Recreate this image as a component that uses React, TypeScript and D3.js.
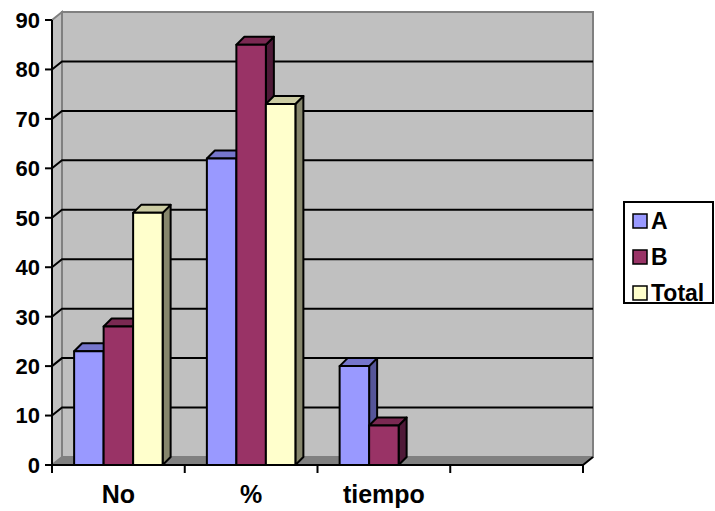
import React from 'react';
import * as d3 from 'd3';

const categories = ['No', '%', 'tiempo', ''];
const seriesNames = ['A', 'B', 'Total'];
const valuesA = [23, 62, 20, null];
const valuesB = [28, 85, 8, null];
const valuesTotal = [51, 73, null, null];
const yTicks = [0, 10, 20, 30, 40, 50, 60, 70, 80, 90];

const colors: Record<string, { front: string; top: string; side: string }> = {
    A: { front: '#9999FF', top: '#7676CC', side: '#555599' },
    B: { front: '#993366', top: '#7A2952', side: '#4F1A38' },
    Total: { front: '#FFFFCC', top: '#CCCCA3', side: '#86866C' },
};

const W = 715;
const H = 511;
const left = 52;
const right = 583;
const zeroY = 465;
const topY = 20;
// depth offsets for the walls and for the bars
const wdx = 10, wdy = -8;
const bdx = 8, bdy = -8;
const font = "'Liberation Sans', Arial, sans-serif";

const App: React.FC = () => {
    const y = d3.scaleLinear().domain([0, 90]).range([zeroY, topY]);
    const x = d3.scaleBand<string>().domain(categories.map((c, i) => String(i))).range([left, right]).padding(0);
    const band = x.bandwidth();
    const barW = band / 4.5; // gap width 150%
    const inner = d3.scaleBand<string>().domain(seriesNames).range([barW * 0.75, band - barW * 0.75]).padding(0);

    const data: Record<string, (number | null)[]> = { A: valuesA, B: valuesB, Total: valuesTotal };

    const bars: JSX.Element[] = [];
    categories.forEach((c, ci) => {
        seriesNames.forEach(s => {
            const v = data[s][ci];
            if (v == null) return;
            const x0 = (x(String(ci)) as number) + (inner(s) as number);
            const x1 = x0 + barW;
            const yt = y(v);
            const col = colors[s];
            const front = `M${x0},${zeroY}L${x0},${yt}L${x1},${yt}L${x1},${zeroY}Z`;
            const top = `M${x0},${yt}L${x0 + bdx},${yt + bdy}L${x1 + bdx},${yt + bdy}L${x1},${yt}Z`;
            const side = `M${x1},${zeroY}L${x1},${yt}L${x1 + bdx},${yt + bdy}L${x1 + bdx},${zeroY + bdy}Z`;
            bars.push(
                <g key={`${s}-${ci}`} stroke="#000" strokeWidth={2} strokeLinejoin="round">
                    <path d={side} fill={col.side} />
                    <path d={top} fill={col.top} />
                    <path d={front} fill={col.front} />
                </g>
            );
        });
    });

    const catTicks = [...categories.map((c, i) => x(String(i)) as number), right];

    return (
        <svg width={W} height={H} style={{ position: 'absolute', left: 0, top: 0, background: '#fff' }}>
            {/* left side wall */}
            <path d={`M${left},${topY}L${left + wdx},${topY + wdy}L${left + wdx},${zeroY + wdy}L${left},${zeroY}Z`}
                fill="#C0C0C0" stroke="#808080" strokeWidth={2} />
            {/* back wall */}
            <rect x={left + wdx} y={topY + wdy} width={right - left} height={zeroY - topY}
                fill="#C0C0C0" stroke="#808080" strokeWidth={2} />
            {/* floor */}
            <path d={`M${left},${zeroY}L${left + wdx},${zeroY + wdy}L${right + wdx},${zeroY + wdy}L${right},${zeroY}Z`}
                fill="#808080" />
            {/* gridlines */}
            {yTicks.filter(t => t > 0 && t < 90).map(t => (
                <path key={t} d={`M${left},${y(t)}L${left + wdx},${y(t) + wdy}L${right + wdx},${y(t) + wdy}`}
                    fill="none" stroke="#000" strokeWidth={2} />
            ))}
            {bars}
            {/* axes */}
            <line x1={left} x2={left} y1={topY} y2={zeroY} stroke="#000" strokeWidth={2} />
            <path d={`M${left},${zeroY}L${right},${zeroY}L${right + wdx},${zeroY + wdy}`} fill="none" stroke="#000" strokeWidth={2} />
            {yTicks.map(t => (
                <g key={t}>
                    <line x1={left - 7} x2={left} y1={y(t)} y2={y(t)} stroke="#000" strokeWidth={2} />
                    <text x={40} y={y(t)} dy="0.36em" textAnchor="end" fontFamily={font} fontWeight="bold" fontSize={22}>{t}</text>
                </g>
            ))}
            {catTicks.map((cx, i) => (
                <line key={i} x1={cx} x2={cx} y1={zeroY} y2={zeroY + 8} stroke="#000" strokeWidth={2} />
            ))}
            {categories.map((c, i) => (
                <text key={i} x={(x(String(i)) as number) + band / 2} y={503} textAnchor="middle"
                    fontFamily={font} fontWeight="bold" fontSize={25}>{c}</text>
            ))}
            {/* legend */}
            <rect x={624} y={202} width={89} height={101} fill="#fff" stroke="#000" strokeWidth={2} />
            {seriesNames.map((s, i) => {
                const cy = 221 + i * 36;
                return (
                    <g key={s}>
                        <rect x={633} y={cy - 7} width={14} height={14} fill={colors[s].front} stroke="#000" strokeWidth={1.5} />
                        <text x={651} y={cy} dy="0.36em" fontFamily={font} fontWeight="bold" fontSize={23}>{s}</text>
                    </g>
                );
            })}
        </svg>
    );
};

export default App;
